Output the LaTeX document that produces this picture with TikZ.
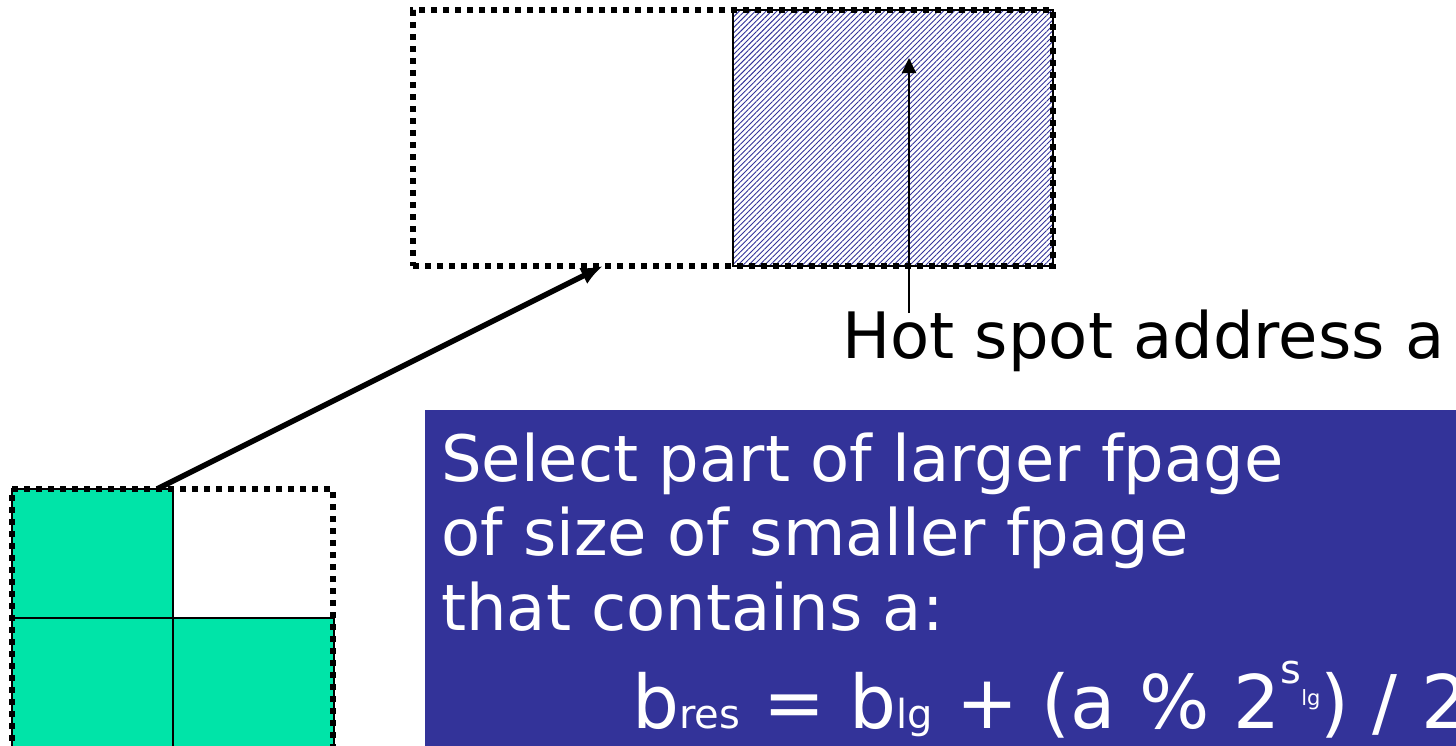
\documentclass[tikz,border=0pt]{standalone}
\usepackage{fontspec}
\setmainfont{DejaVu Sans}
\usetikzlibrary{arrows.meta,positioning,patterns.meta}
\definecolor{slideblue}{HTML}{333399}
\definecolor{cellgreen}{HTML}{00E4A8}
\newcommand\fbig{\fontsize{74}{80}\selectfont}
\newcommand\fsub{\fontsize{40}{44}\selectfont}
\newcommand\ftiny{\fontsize{21}{24}\selectfont}

\begin{document}
\begin{tikzpicture}[
  x=1pt, y=-1pt,
  dots/.style={draw, line width=6pt, dash pattern=on 6pt off 6pt, outer sep=0pt},
  cell/.style={draw, line width=2pt, fill=cellgreen, outer sep=0pt,
               minimum width=161pt, minimum height=129pt},
  hatch/.style={draw, line width=2pt, outer sep=0pt,
                pattern={Lines[angle=45, distance=3.8pt, line width=0.9pt]},
                pattern color=slideblue},
  arr/.style={-{Latex[length=22pt,width=18pt]}, line width=5.5pt},
  thinarr/.style={-{Triangle[length=15pt,width=14pt]}, line width=2pt},
  bigtext/.style={font=\fontsize{64}{74.5}\selectfont, inner sep=0pt}
]
\useasboundingbox (0,0) rectangle (1456,745);
\clip (0,0) rectangle (1456,745);

% larger fpage with hot half
\node[hatch, anchor=north west, minimum width=320pt, minimum height=256pt] (hot) at (733,10) {};
\node[dots, anchor=north east, minimum width=640pt, minimum height=256pt] (fpage) at (hot.north east) {};

% smaller fpages
\node[cell, anchor=north west] (tl) at (12,489) {};
\node[cell, below=0pt of tl, minimum height=200pt] (bl) {};
\node[cell, right=0pt of bl, minimum height=200pt] (br) {};
\node[dots, anchor=north west, minimum width=321pt, minimum height=300pt] (small) at (12,489) {};

% hot spot label
\node[bigtext, anchor=base west] (hotlabel) at (842,358) {Hot spot address a};
\coordinate (hstip) at (909,58);
\draw[thinarr] ([yshift=-4pt]hotlabel.north -| hstip) -- (hstip);

\draw[arr] ([xshift=-16pt]tl.north east) -- ([xshift=190pt]fpage.south west);

% explanation box
\node[fill=slideblue, anchor=north west, minimum width=1100pt, minimum height=400pt] (info) at (425,410) {};
\node[bigtext, text=white, align=left, anchor=base west] (infotext) at (441,630)
  {Select part of larger fpage\\of size of smaller fpage\\that contains a:};
\node[inner sep=0pt, text=white, anchor=base west] (formula) at (632,728)
  {\fbig b{\fsub res} = b{\fsub lg} + (a \% 2\raisebox{45pt}{\fsub s}\raisebox{23pt}{\ftiny lg}) / 2};
\end{tikzpicture}
\end{document}
